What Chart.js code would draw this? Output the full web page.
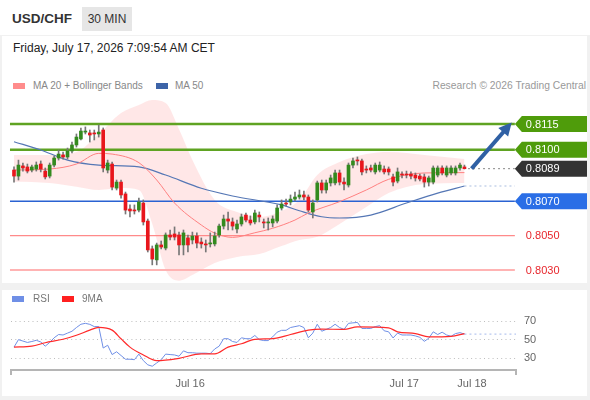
<!DOCTYPE html>
<html><head><meta charset="utf-8">
<script src="https://cdn.jsdelivr.net/npm/chart.js@4.4.1/dist/chart.umd.min.js"></script>
<style>
html,body{margin:0;padding:0}
body{width:590px;height:400px;position:relative;overflow:hidden;background:#f1f1f1;font-family:'Liberation Sans',Arial,sans-serif}
.panel{position:absolute;background:#fff}
.t{position:absolute;white-space:nowrap}
.sw{position:absolute;height:6px;width:12px}
canvas{position:absolute}
</style></head><body>
<div class="panel" style="left:0;top:0;width:590px;height:35px"></div>
<div class="panel" style="left:2px;top:36px;width:585px;height:247px"></div>
<div class="panel" style="left:2px;top:290px;width:585px;height:106px"></div>

<div class="t" style="left:12px;top:10px;font-weight:bold;font-size:13.5px;line-height:18px;color:#333">USD/CHF</div>
<div class="t" style="left:82px;top:7px;width:50px;height:24px;background:#e6e6e6;font-size:12px;line-height:24px;text-align:center;color:#333">30 MIN</div>
<div class="t" style="left:13px;top:40px;font-size:12px;line-height:16px;color:#222">Friday, July 17, 2026 7:09:54 AM CET</div>

<div class="sw" style="left:13px;top:83px;background:#ff8c8c"></div>
<div class="t" style="left:33px;top:80px;font-size:10px;line-height:12px;color:#888">MA 20 + Bollinger Bands</div>
<div class="sw" style="left:156px;top:83px;background:#3d64a8"></div>
<div class="t" style="left:175px;top:80px;font-size:10px;line-height:12px;color:#888">MA 50</div>
<div class="t" style="right:4px;top:80px;font-size:10.3px;line-height:12px;color:#999">Research © 2026 Trading Central</div>

<canvas id="main" width="590" height="192" style="left:0;top:92px"></canvas>
<canvas id="rsi" width="590" height="110" style="left:0;top:290px"></canvas>

<div class="sw" style="left:12px;top:296px;background:#6f8fe6"></div>
<div class="t" style="left:33px;top:293px;font-size:10px;line-height:12px;color:#777">RSI</div>
<div class="sw" style="left:62px;top:296px;background:#ff2020"></div>
<div class="t" style="left:82px;top:293px;font-size:10px;line-height:12px;color:#777">9MA</div>

<script>
// ---- candles (30 min) ----
const O = [.80882,.80847,.80906,.80900,.80882,.80888,.80917,.80876,.80847,.80911,
.80952,.80970,.80958,.80993,.81028,.81063,.81103,.81098,.81098,.81092,
.81115,.80882,.80917,.80777,.80812,.80743,.80655,.80649,.80649,.80690,
.80585,.80423,.80359,.80446,.80428,.80504,.80510,.80504,.80446,.80487,
.80475,.80498,.80463,.80452,.80452,.80452,.80504,.80556,.80597,.80580,
.80539,.80568,.80620,.80591,.80580,.80620,.80580,.80574,.80574,.80585,
.80661,.80690,.80696,.80713,.80725,.80737,.80725,.80638,.80708,.80807,
.80766,.80807,.80807,.80865,.80812,.80795,.80911,.80940,.80935,.80888,
.80894,.80871,.80882,.80888,.80888,.80842,.80818,.80859,.80859,.80859,
.80853,.80847,.80842,.80812,.80812,.80853,.80894,.80853,.80865,.80865,
.80894,.80900];
const H = [.80900,.80940,.80923,.80917,.80911,.80929,.80935,.80894,.80923,.80964,
.80999,.80987,.81010,.81045,.81092,.81127,.81133,.81115,.81115,.81144,
.81127,.80940,.80929,.80824,.80824,.80754,.80679,.80679,.80719,.80708,
.80597,.80440,.80457,.80469,.80516,.80533,.80551,.80521,.80533,.80504,
.80521,.80516,.80487,.80475,.80516,.80521,.80568,.80620,.80638,.80603,
.80591,.80626,.80632,.80615,.80649,.80638,.80597,.80603,.80615,.80679,
.80708,.80713,.80737,.80754,.80766,.80760,.80737,.80708,.80818,.80824,
.80824,.80853,.80882,.80882,.80836,.80923,.80952,.80958,.80946,.80906,
.80911,.80923,.80929,.80906,.80900,.80859,.80894,.80871,.80876,.80871,
.80865,.80859,.80859,.80847,.80906,.80906,.80906,.80906,.80906,.80906,
.80923,.80911];
const L = [.80812,.80824,.80876,.80865,.80871,.80876,.80871,.80830,.80836,.80900,
.80940,.80946,.80946,.80981,.81016,.81057,.81092,.81045,.81057,.81074,
.80871,.80865,.80766,.80766,.80719,.80626,.80609,.80626,.80638,.80562,
.80405,.80330,.80330,.80423,.80417,.80475,.80475,.80388,.80388,.80405,
.80452,.80428,.80428,.80405,.80434,.80440,.80492,.80539,.80533,.80533,
.80516,.80556,.80580,.80562,.80568,.80580,.80545,.80533,.80551,.80574,
.80649,.80673,.80679,.80702,.80713,.80708,.80638,.80603,.80696,.80748,
.80748,.80789,.80795,.80795,.80766,.80783,.80894,.80911,.80853,.80865,
.80871,.80859,.80871,.80859,.80853,.80789,.80807,.80836,.80836,.80830,
.80818,.80818,.80783,.80789,.80801,.80842,.80853,.80842,.80853,.80853,
.80882,.80888];
const C = [.80847,.80911,.80894,.80876,.80900,.80911,.80888,.80842,.80911,.80952,
.80975,.80958,.80993,.81028,.81074,.81109,.81109,.81086,.81092,.81103,
.80894,.80923,.80783,.80812,.80737,.80649,.80644,.80644,.80696,.80580,
.80417,.80364,.80446,.80434,.80504,.80492,.80492,.80446,.80516,.80446,
.80498,.80457,.80452,.80446,.80457,.80498,.80556,.80597,.80585,.80556,
.80568,.80609,.80591,.80574,.80632,.80609,.80574,.80580,.80597,.80661,
.80684,.80684,.80713,.80725,.80737,.80725,.80649,.80690,.80807,.80766,
.80807,.80836,.80865,.80812,.80801,.80911,.80935,.80935,.80871,.80882,
.80882,.80911,.80911,.80871,.80871,.80812,.80871,.80853,.80853,.80847,
.80836,.80830,.80812,.80836,.80894,.80894,.80865,.80894,.80894,.80894,
.80911,.80890];

// ---- indicators read at sample candles ----
const ma20Idx = [0,8,14,19,22,28,32,36,42,45,49,54,58,63,66,73,79,84,92,101];
const ma20Val = [.80882,.80888,.80917,.80979,.80975,.80925,.80824,.80690,.80562,.80515,.80490,.80517,.80543,.80591,.80632,.80698,.80766,.80828,.80865,.80867];
const ma50Idx = [0,6,12,19,28,34,42,49,60,64,69,73,80,88,95,101];
const ma50Val = [.81047,.80999,.80940,.80911,.80900,.80853,.80776,.80731,.80679,.80645,.80610,.80603,.80620,.80690,.80748,.80789];
const bandIdx = [0,8,14,19,24,28,31,34,37,40,45,50,55,60,64,68,73,79,84,92,101];
const bandUp  = [.80970,.80970,.80987,.81090,.81214,.81261,.81290,.81272,.81120,.80940,.80708,.80638,.80609,.80644,.80708,.80853,.80929,.80975,.80987,.80970,.80946];
const bandLo  = [.80814,.80807,.80785,.80766,.80777,.80766,.80570,.80300,.80238,.80271,.80341,.80376,.80393,.80440,.80475,.80494,.80568,.80667,.80748,.80801,.80807];

// ---- key levels ----
const levelValues = [0.8115, 0.8100, 0.8070, 0.8050, 0.8030];
const levelKinds  = ['res','res','sup','low','low2'];

// ---- RSI panel ----
const rsi = [42,50,48.5,47,48,49.3,47.5,43,47,52,
55.5,55,57,59,63,66.5,67.5,66.4,64,64,
41,44,34,37,33,29,29,28.5,34.5,27.5,
23,21.5,25,28.5,34.5,34,33.6,32.2,38,36,
36,35.5,35.5,35.5,35,40,43,51,51,48,
47,52,51,51,54.5,50,49,49,53,58,
60,60,63,64,65,63,52,57,66.5,59,
61,63,66.5,63,61,67.5,68,68.5,62,62,
62,64,65,59.5,58.4,51.8,57,55,55,55,
54,52.5,48.2,51.5,58.4,55.5,58,55,53.6,56.5,
57.5,56];
const rsiMaIdx = [0,4,7,11,14,17,19,22,24,26,29,32,37,42,45,48,51,54,58,62,66,69,74,77,84,86,90,93,98,101];
const rsiMaVal = [42,43,46.7,50.4,54.7,60.2,63.1,60.2,51,42,33.6,27.5,30,34.7,34.7,42,45.6,50.4,51,55.5,60.2,61.3,61,63.8,62.7,58.4,56.5,52.9,53.6,56.5];
const rsiTicks = [30, 50, 70];
const xTickPos = [39.5, 87.5, 102.7];
const xTickLabels = ['Jul 16', 'Jul 17', 'Jul 18'];

// ---------------- rendering ----------------
Chart.defaults.font.family = "'Liberation Sans', Arial, sans-serif";
const GREEN = '#338a1e', RED = '#e8161c', WICK = '#777';
const LSTART = -0.9, LEND = 112.3;   // level lines span
const last = C.length - 1;
const pts = (ix, vals) => ix.map((x, k) => ({x, y: vals[k]}));
const idx = C.map((_, i) => i);

const levelStyle = {
  res:  {line:'#5fa322', width:2.5, box:'#4f9c0b', text:'#fff'},
  sup:  {line:'#2a62d2', width:1.5, box:'#2a6ee6', text:'#fff'},
  low:  {line:'#ff8a8a', width:1.2, box:null, text:'#e8262c'},
  low2: {line:'#ffb3b3', width:2,   box:null, text:'#e8262c'}
};

const lineBase = {type:'line', pointRadius:0, fill:false, cubicInterpolationMode:'monotone'};

const mainDatasets = [
  {type:'bar', data: idx.map(i => ({x:i, y:[O[i], C[i]]})), backgroundColor: idx.map(i => C[i] >= O[i] ? GREEN : RED),
   barThickness:3, minBarLength:1, grouped:false, order:0},
  {type:'bar', data: idx.map(i => ({x:i, y:[L[i], H[i]]})), backgroundColor: WICK, barThickness:1, grouped:false, order:1},
  {...lineBase, data: pts(ma20Idx, ma20Val), borderColor:'#ff8080', borderWidth:1, order:2},
  {...lineBase, data: pts(ma50Idx, ma50Val), borderColor:'#5577b5', borderWidth:1.2, order:2},
  {...lineBase, data: [{x:last, y:ma50Val[ma50Val.length-1]}, {x:LEND, y:ma50Val[ma50Val.length-1]}], borderColor:'#a9bde0', borderWidth:1.2, borderDash:[2,3], order:2},
  {...lineBase, data: [{x:last+0.8, y:C[last]}, {x:LEND, y:C[last]}], borderColor:'#888', borderWidth:1, borderDash:[2,3], order:2},
  ...levelValues.map((v, k) => ({...lineBase, data:[{x:LSTART, y:v}, {x:LEND, y:v}],
      borderColor: levelStyle[levelKinds[k]].line, borderWidth: levelStyle[levelKinds[k]].width, order:3})),
  {...lineBase, data: pts(bandIdx, bandUp), borderWidth:0, borderColor:'rgba(0,0,0,0)', fill:'+1', backgroundColor:'rgba(255,110,110,0.17)', order:4},
  {...lineBase, data: pts(bandIdx, bandLo), borderWidth:0, borderColor:'rgba(0,0,0,0)', order:4}
];

function tag(ctx, tipX, yv, fill, text, color) {
  if (fill) {
    ctx.fillStyle = fill;
    ctx.beginPath();
    ctx.moveTo(tipX, yv);
    ctx.lineTo(tipX + 7, yv - 8);
    ctx.lineTo(587, yv - 8);
    ctx.lineTo(587, yv + 8);
    ctx.lineTo(tipX + 7, yv + 8);
    ctx.closePath();
    ctx.fill();
  }
  ctx.fillStyle = color;
  ctx.font = "11px 'Liberation Sans', Arial, sans-serif";
  ctx.textBaseline = 'middle';
  ctx.textAlign = 'left';
  ctx.fillText(text, tipX + 11, yv + 0.5);
}

const overlay = {
  id: 'overlay',
  afterDatasetsDraw(chart) {
    const {ctx, scales: {x, y}} = chart;
    const tipX = x.getPixelForValue(LEND);
    ctx.save();
    levelValues.forEach((v, k) => {
      const st = levelStyle[levelKinds[k]];
      tag(ctx, tipX, y.getPixelForValue(v), st.box, v.toFixed(4), st.text);
    });
    tag(ctx, tipX, y.getPixelForValue(C[last]), '#333', C[last].toFixed(4), '#fff');
    // forecast arrow
    const x1 = x.getPixelForValue(last + 1.6), y1 = y.getPixelForValue(C[last]);
    const x2 = x.getPixelForValue(LEND - 0.7), y2 = y.getPixelForValue(levelValues[0]) - 1.5;
    const a = Math.atan2(y2 - y1, x2 - x1);
    const hl = 13, hw = 6.5;
    const bx = x2 - hl * Math.cos(a), by = y2 - hl * Math.sin(a);
    ctx.strokeStyle = '#2f60a4'; ctx.fillStyle = '#2f60a4';
    ctx.lineWidth = 4; ctx.lineCap = 'butt';
    ctx.beginPath(); ctx.moveTo(x1, y1); ctx.lineTo(bx + 2 * Math.cos(a), by + 2 * Math.sin(a)); ctx.stroke();
    ctx.beginPath();
    ctx.moveTo(x2, y2);
    ctx.lineTo(bx + hw * Math.sin(a), by - hw * Math.cos(a));
    ctx.lineTo(bx - hw * Math.sin(a), by + hw * Math.cos(a));
    ctx.closePath(); ctx.fill();
    ctx.restore();
  }
};

new Chart(document.getElementById('main'), {
  type: 'bar',
  data: {datasets: mainDatasets},
  options: {
    responsive:false, animation:false, events:[],
    layout:{padding:0},
    plugins:{legend:{display:false}, tooltip:{enabled:false}},
    scales:{
      x:{type:'linear', min:-3.139, max:129.15, offset:false, display:false},
      y:{min:0.802187, max:0.813363, display:false}
    }
  },
  plugins:[overlay]
});

const RX_MIN = -0.673, RX_MAX = 112.56;
// pixel rows (within the RSI canvas) where the 70 and 30 guides sit
const RSI_Y70 = 31, RSI_Y30 = 68.3;
const rsiChart = new Chart(document.getElementById('rsi'), {
  type: 'line',
  data: {datasets: [
    {...lineBase, data: pts(rsiMaIdx, rsiMaVal), borderColor:'#ff2a2a', borderWidth:1.2, order:0},
    {type:'line', pointRadius:0, fill:false, tension:0, data: idx.map(i => ({x:i, y:rsi[i]})), borderColor:'#6f8fe6', borderWidth:1, order:1},
    {type:'line', pointRadius:0, fill:false, data: [{x:last, y:rsi[last]}, {x:RX_MAX, y:rsi[last]}], borderColor:'#b8c8f0', borderWidth:1.2, borderDash:[2,3], order:1}
  ]},
  options: {
    responsive:false, animation:false, events:[],
    layout:{padding:{left:11, top:4, right:0, bottom:0}},
    plugins:{legend:{display:false}, tooltip:{enabled:false}},
    scales:{
      x:{type:'linear', min:RX_MIN, max:RX_MAX, offset:false,
        afterBuildTicks: s => { s.ticks = [RX_MIN, ...xTickPos, RX_MAX].map(v => ({value:v})); },
        afterFit: s => { s.height = 30; },
        ticks:{autoSkip:false, maxRotation:0, color:'#666', font:{size:11}, padding:2,
          callback: v => { const k = xTickPos.findIndex(p => Math.abs(p - v) < 1e-6); return k >= 0 ? xTickLabels[k] : ''; }},
        grid:{drawOnChartArea:false, drawTicks:true, tickLength:5,
          color: c => (c.tick && (c.tick.value === RX_MIN || c.tick.value === RX_MAX)) ? '#b5b5b5' : 'rgba(0,0,0,0)', lineWidth:2},
        border:{display:true, color:'#b5b5b5', width:2}
      },
      y:{position:'right', min:10, max:95,
        afterBuildTicks: s => { s.ticks = rsiTicks.map(v => ({value:v})); },
        afterFit: s => { s.width = 74; },
        ticks:{color:'#666', font:{size:11}, padding:8},
        grid:{color:'#bdbdbd', lineWidth:1, drawTicks:false},
        border:{display:false, dash:[1,3.3]}
      }
    }
  }
});
// fit the value range so that the 70/30 guides land on their rows
(function () {
  const a = rsiChart.chartArea;
  const ppu = (RSI_Y30 - RSI_Y70) / 40;
  rsiChart.options.scales.y.max = 70 + (RSI_Y70 - a.top) / ppu;
  rsiChart.options.scales.y.min = 30 - (a.bottom - RSI_Y30) / ppu;
  rsiChart.update('none');
})();
</script>
</body></html>
